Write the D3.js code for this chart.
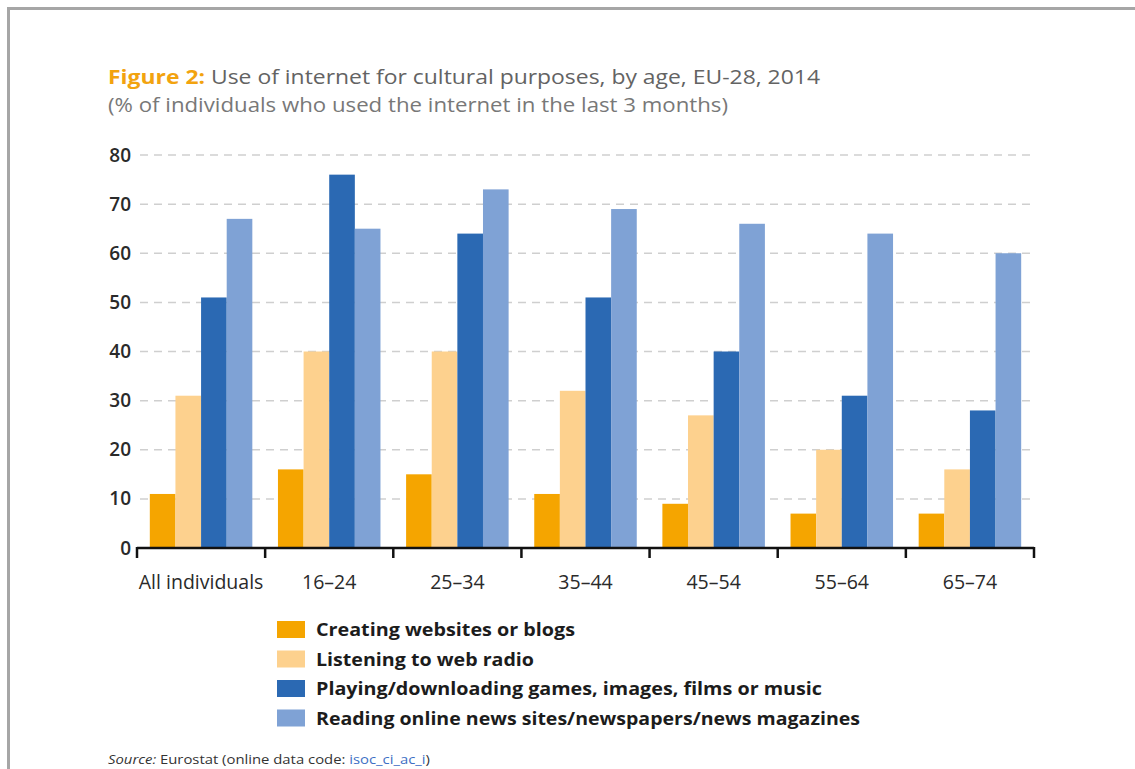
<!DOCTYPE html>
<html>
<head>
<meta charset="utf-8">
<script src="https://cdn.jsdelivr.net/npm/d3@7"></script>
<style>
  html, body { margin: 0; padding: 0; background: #fff; }
  svg { display: block; font-family: "Open Sans", "Noto Sans", sans-serif; }
</style>
</head>
<body>
<svg id="chart" width="1135" height="769"></svg>
<script>
// data
var categories = ['All individuals', '16\u201324', '25\u201334', '35\u201344', '45\u201354', '55\u201364', '65\u201374'];
var seriesNames = [
  'Creating websites or blogs',
  'Listening to web radio',
  'Playing/downloading games, images, films or music',
  'Reading online news sites/newspapers/news magazines'
];
var creatingWebsites = [11, 16, 15, 11, 9, 7, 7];
var webRadio = [31, 40, 40, 32, 27, 20, 16];
var gamesMusic = [51, 76, 64, 51, 40, 31, 28];
var onlineNews = [67, 65, 73, 69, 66, 64, 60];
var yTicks = [0, 10, 20, 30, 40, 50, 60, 70, 80];

var colors = ['#f5a500', '#fdd18e', '#2b69b3', '#7fa2d5'];
var legendWidths = [259, 218, 506, 544];

var svg = d3.select('#chart');

// frame
svg.append('path')
  .attr('d', 'M8.5,800 L8.5,8.5 L1140,8.5')
  .attr('fill', 'none')
  .attr('stroke', '#a6a6a6')
  .attr('stroke-width', 3);

// title
var title = svg.append('text')
  .attr('x', 108)
  .attr('y', 84)
  .attr('font-size', 20)
  .attr('textLength', 712)
  .attr('lengthAdjust', 'spacingAndGlyphs');
title.append('tspan')
  .attr('fill', '#f2a30f')
  .attr('font-weight', 'bold')
  .text('Figure 2:');
title.append('tspan')
  .attr('fill', '#636363')
  .text(' Use of internet for cultural purposes, by age, EU-28, 2014');

svg.append('text')
  .attr('x', 108)
  .attr('y', 112)
  .attr('font-size', 20)
  .attr('fill', '#787878')
  .attr('textLength', 620)
  .attr('lengthAdjust', 'spacingAndGlyphs')
  .text('(% of individuals who used the internet in the last 3 months)');

// scales
var x0 = d3.scaleBand()
  .domain(categories)
  .range([137, 1034])
  .paddingInner(0)
  .paddingOuter(0);

var bw = x0.bandwidth();
var x1 = d3.scaleBand()
  .domain(d3.range(seriesNames.length))
  .range([bw * 0.1, bw * 0.9])
  .padding(0);

var y = d3.scaleLinear()
  .domain([0, 80])
  .range([548, 155]);

// gridlines
svg.append('g')
  .selectAll('line')
  .data(yTicks.filter(function (d) { return d > 0; }))
  .enter()
  .append('line')
  .attr('x1', 140)
  .attr('x2', 1036)
  .attr('y1', function (d) { return y(d); })
  .attr('y2', function (d) { return y(d); })
  .attr('stroke', '#cfcfcf')
  .attr('stroke-width', 1.5)
  .attr('stroke-dasharray', '8,6');

// bars
var allSeries = [creatingWebsites, webRadio, gamesMusic, onlineNews];
var groups = svg.append('g')
  .selectAll('g')
  .data(categories)
  .enter()
  .append('g')
  .attr('transform', function (d) { return 'translate(' + x0(d) + ',0)'; });

groups.selectAll('rect')
  .data(function (d, i) {
    return allSeries.map(function (s, k) { return { k: k, v: s[i] }; });
  })
  .enter()
  .append('rect')
  .attr('x', function (d) { return x1(d.k); })
  .attr('width', x1.bandwidth())
  .attr('y', function (d) { return y(d.v); })
  .attr('height', function (d) { return y(0) - y(d.v); })
  .attr('fill', function (d) { return colors[d.k]; });

// y axis labels
var yAxis = svg.append('g')
  .attr('transform', 'translate(131,0)')
  .call(d3.axisLeft(y).tickValues(yTicks).tickSize(0).tickPadding(0));
yAxis.select('.domain').remove();
yAxis.selectAll('text')
  .attr('font-size', 19)
  .attr('font-weight', 600)
  .attr('fill', '#2a2a2a')
  .attr('font-family', '"Open Sans", sans-serif');

// x axis
var xAxis = svg.append('g')
  .attr('transform', 'translate(0,548)')
  .call(d3.axisBottom(x0).tickSize(0).tickPadding(27));
xAxis.select('.domain').remove();
xAxis.selectAll('text')
  .attr('font-size', 19.5)
  .attr('font-weight', 500)
  .attr('fill', '#2a2a2a')
  .attr('font-family', '"Open Sans", sans-serif');

svg.append('line')
  .attr('x1', x0.range()[0])
  .attr('x2', x0.range()[1])
  .attr('y1', 548)
  .attr('y2', 548)
  .attr('stroke', '#111')
  .attr('stroke-width', 2.5);

var bounds = categories.map(function (c) { return x0(c); }).concat([x0.range()[1]]);
svg.append('g')
  .selectAll('line')
  .data(bounds)
  .enter()
  .append('line')
  .attr('x1', function (d) { return d; })
  .attr('x2', function (d) { return d; })
  .attr('y1', 547)
  .attr('y2', 558)
  .attr('stroke', '#111')
  .attr('stroke-width', 2.5);

// legend
var legend = svg.append('g')
  .selectAll('g')
  .data(seriesNames)
  .enter()
  .append('g')
  .attr('transform', function (d, i) { return 'translate(277,' + (621 + i * 29.5) + ')'; });

legend.append('rect')
  .attr('width', 28)
  .attr('height', 17)
  .attr('fill', function (d, i) { return colors[i]; });

legend.append('text')
  .attr('x', 39)
  .attr('y', 15)
  .attr('font-size', 18)
  .attr('font-weight', 'bold')
  .attr('fill', '#1c1c1c')
  .attr('textLength', function (d, i) { return legendWidths[i]; })
  .attr('lengthAdjust', 'spacingAndGlyphs')
  .text(function (d) { return d; });

// source
var src = svg.append('text')
  .attr('x', 108)
  .attr('y', 764)
  .attr('font-size', 12)
  .attr('fill', '#333')
  .attr('textLength', 322)
  .attr('lengthAdjust', 'spacingAndGlyphs');
src.append('tspan').attr('font-style', 'italic').text('Source:');
src.append('tspan').text(' Eurostat (online data code: ');
src.append('tspan').attr('fill', '#3d6fc4').text('isoc_ci_ac_i');
src.append('tspan').text(')');
</script>
</body>
</html>
